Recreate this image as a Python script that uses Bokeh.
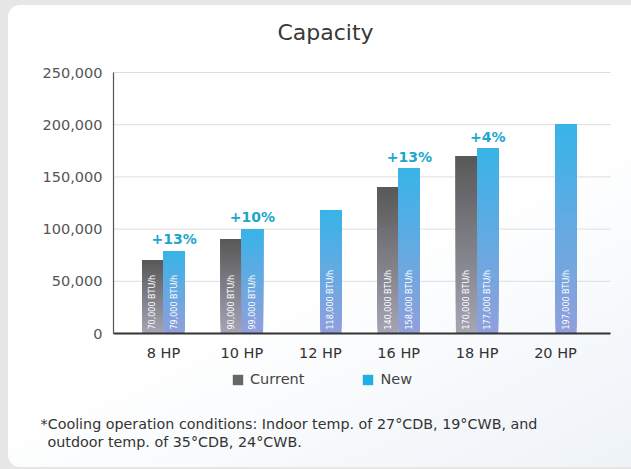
import numpy as np
from bokeh.plotting import figure
from bokeh.models import (Range1d, Legend, LegendItem, ColumnDataSource, Label,
                          NumeralTickFormatter, FixedTicker, Column)
from bokeh.core.properties import value
from bokeh.embed import file_html
from bokeh.resources import INLINE

# ---------------- data ----------------
categories = ["8 HP", "10 HP", "12 HP", "16 HP", "18 HP", "20 HP"]
current_values = [70000, 90000, None, 140000, 170000, None]
new_values = [79000, 100000, 118000, 158000, 177000, 200000]
current_labels = ["70,000 BTU/h", "90,000 BTU/h", None, "140,000 BTU/h", "170,000 BTU/h", None]
new_labels = ["79,000 BTU/h", "99,000 BTU/h", "118,000 BTU/h", "158,000 BTU/h", "177,000 BTU/h", "197,000 BTU/h"]
increase_labels = ["+13%", "+10%", None, "+13%", "+4%", None]
y_ticks = [0, 50000, 100000, 150000, 200000, 250000]
Y_MAX = 250000

FONT = "DejaVu Sans"

# ---------------- layout constants (pixels in figure) ----------------
W, H = 623, 462
X0_PX, STEP_PX = 155.0, 78.4      # pixel of first category centre, category spacing
AX_LEFT_PX, AX_RIGHT_PX = 105.0, 602.0
Y0_PX, YTOP_PX = 328.0, 67.0      # pixel rows of 0 and Y_MAX

def px_to_x(px):
    return (px - X0_PX) / STEP_PX

per_px = Y_MAX / (Y0_PX - YTOP_PX)
x_lo, x_hi = px_to_x(0), px_to_x(W)
y_hi = Y0_PX * per_px
y_lo = -(H - Y0_PX) * per_px
ax_left = px_to_x(AX_LEFT_PX)
ax_right = px_to_x(AX_RIGHT_PX)

def hex2rgb(h):
    h = h.lstrip("#")
    return np.array([int(h[i:i + 2], 16) for i in (0, 2, 4)], dtype=float)

def mix(c0, c1, t):
    c = hex2rgb(c0) * (1 - t) + hex2rgb(c1) * t
    return "#%02x%02x%02x" % tuple(int(round(v)) for v in c)

p = figure(width=W, height=H, output_backend="svg", toolbar_location=None,
           x_range=Range1d(x_lo, x_hi), y_range=Range1d(y_lo, y_hi),
           min_border=0, border_fill_color=None, background_fill_color=None,
           outline_line_color=None, margin=(5, 0, 0, 8))
p.styles = {"border-radius": "12px 0 0 12px",
            "background": "linear-gradient(155deg, #ffffff 55%, #eef3f8 100%)"}

# horizontal grid lines limited to the plot box
grid_y = [t for t in y_ticks if t > 0]
p.segment(x0=[ax_left] * len(grid_y), x1=[ax_right] * len(grid_y), y0=grid_y, y1=grid_y,
          line_color="#dedede", line_width=1)

BAR_W = 0.27
OFF = 0.135
N = 40

def gradient_bars(vals, offset, c_bottom, c_top):
    left, right, bottom, top, color = [], [], [], [], []
    for i, v in enumerate(vals):
        if v is None:
            continue
        edges = np.linspace(0, v, N + 1)
        for k in range(N):
            left.append(i + offset - BAR_W / 2)
            right.append(i + offset + BAR_W / 2)
            bottom.append(edges[k])
            top.append(v)
            color.append(mix(c_bottom, c_top, (k + 0.5) / N))
    src = ColumnDataSource(dict(left=left, right=right, bottom=bottom, top=top, color=color))
    p.quad(left="left", right="right", bottom="bottom", top="top", fill_color="color",
           line_color=None, source=src)

gradient_bars(current_values, -OFF, "#a5a5b5", "#585858")
gradient_bars(new_values, OFF, "#919fdb", "#38b4e8")

# in-bar vertical labels
lx, ly, lt = [], [], []
for i, (v, t) in enumerate(zip(current_values, current_labels)):
    if v is not None:
        lx.append(i - OFF); ly.append(0); lt.append(t)
for i, (v, t) in enumerate(zip(new_values, new_labels)):
    if v is not None:
        lx.append(i + OFF); ly.append(0); lt.append(t)
p.text(x=lx, y=ly, text=lt, angle=np.pi / 2, text_align="left", text_baseline="middle",
       y_offset=-4, text_color="#ffffff", text_font_size="8px",
       text_font=value(FONT))

# increase labels
px, py, pt = [], [], []
for i, (v, t) in enumerate(zip(new_values, increase_labels)):
    if t is not None:
        px.append(i + OFF); py.append(v); pt.append(t)
p.text(x=px, y=py, text=pt, text_align="center", text_baseline="bottom", y_offset=-4,
       text_color="#1ca6cc", text_font_size="14px", text_font_style="bold",
       text_font=value(FONT))

# axes (fixed at the plot box edges)
p.xgrid.visible = False
p.ygrid.visible = False

p.xaxis.fixed_location = 0
p.xaxis.bounds = (ax_left, ax_right)
p.xaxis.ticker = FixedTicker(ticks=list(range(len(categories))))
p.xaxis.major_label_overrides = {i: c for i, c in enumerate(categories)}
p.xaxis.major_tick_line_color = None
p.xaxis.minor_tick_line_color = None
p.xaxis.axis_line_color = "#333333"
p.xaxis.axis_line_width = 2
p.xaxis.major_label_standoff = 5
p.xaxis.major_label_text_font_size = "14.5px"
p.xaxis.major_label_text_color = "#333333"
p.xaxis.major_label_text_font = FONT

p.yaxis.fixed_location = ax_left
p.yaxis.bounds = (0, Y_MAX)
p.yaxis.ticker = FixedTicker(ticks=y_ticks)
p.yaxis.formatter = NumeralTickFormatter(format="0,0")
p.yaxis.major_tick_line_color = None
p.yaxis.minor_tick_line_color = None
p.yaxis.axis_line_color = "#555555"
p.yaxis.axis_line_width = 1.2
p.yaxis.major_label_standoff = 5
p.yaxis.major_label_text_font_size = "14.5px"
p.yaxis.major_label_text_color = "#555555"
p.yaxis.major_label_text_font = FONT

# title
p.add_layout(Label(x=317, y=H - 27, x_units="screen", y_units="screen", text="Capacity",
                   text_align="center", text_baseline="middle", text_font_size="22px",
                   text_color="#383838", text_font=FONT))

# legend
r_cur = p.quad(left=[0], right=[0], bottom=[0], top=[0], fill_color="#666666", line_color=None, visible=False)
r_new = p.quad(left=[0], right=[0], bottom=[0], top=[0], fill_color="#1fb0e3", line_color=None, visible=False)
legend = Legend(items=[LegendItem(label="Current", renderers=[r_cur]),
                       LegendItem(label="New", renderers=[r_new])],
                orientation="horizontal", location=(223, H - 382), padding=0, margin=0,
                spacing=57, glyph_width=13, glyph_height=13, label_height=13,
                label_standoff=6, border_line_color=None, background_fill_alpha=0,
                label_text_font_size="14.5px", label_text_color="#444444",
                label_text_font=FONT)
p.add_layout(legend)

# footnote
p.add_layout(Label(x=32, y=H - 418, x_units="screen", y_units="screen",
                   text="*Cooling operation conditions: Indoor temp. of 27°CDB, 19°CWB, and",
                   text_baseline="middle", text_font_size="14.3px", text_color="#333333",
                   text_font=FONT))
p.add_layout(Label(x=39, y=H - 436, x_units="screen", y_units="screen",
                   text="outdoor temp. of 35°CDB, 24°CWB.",
                   text_baseline="middle", text_font_size="14.3px", text_color="#333333",
                   text_font=FONT))

layout = Column(p, width=631, height=469, styles={"background-color": "#e6e6e6"})
open("out.html", "w").write(file_html(layout, INLINE))
